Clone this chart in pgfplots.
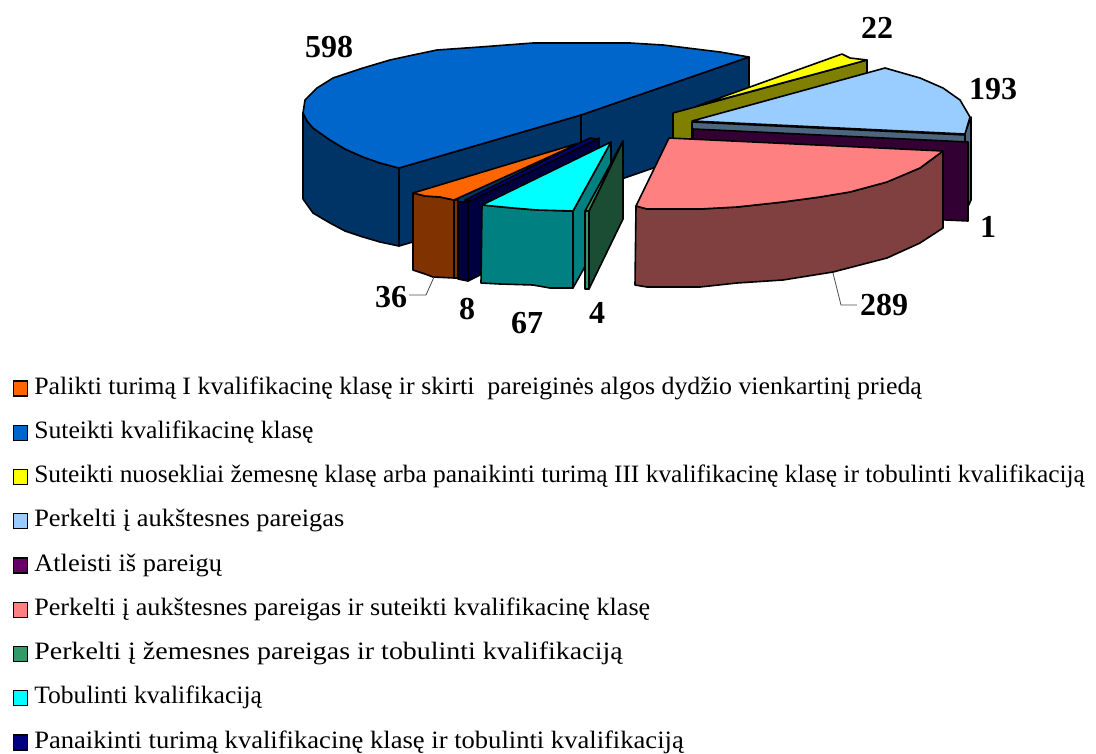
\documentclass[border=0pt]{standalone}
\usepackage{fontspec}
\setmainfont{Liberation Serif}
\usepackage{graphicx}
\usepackage{pgfplots}
\pgfplotsset{compat=1.18}
\definecolor{cOr}{HTML}{FF6600}\definecolor{cOrD}{HTML}{803300}
\definecolor{cBl}{HTML}{0066CC}\definecolor{cBlD}{HTML}{003366}
\definecolor{cYe}{HTML}{FFFF00}\definecolor{cYeD}{HTML}{808000}
\definecolor{cLb}{HTML}{99CCFF}\definecolor{cLbD}{HTML}{4D6680}
\definecolor{cPu}{HTML}{660066}\definecolor{cPuD}{HTML}{330033}
\definecolor{cPk}{HTML}{FF8080}\definecolor{cPkD}{HTML}{804040}
\definecolor{cGr}{HTML}{339966}\definecolor{cGrD}{HTML}{1A4D33}
\definecolor{cCy}{HTML}{00FFFF}\definecolor{cCyD}{HTML}{008080}
\definecolor{cNv}{HTML}{000080}\definecolor{cNvD}{HTML}{000040}
\newcommand{\face}[2]{\addplot[forget plot,fill=#1,draw=black,line width=1.6pt,line join=round,mark=none] coordinates {#2} --cycle;}
\newcommand{\lab}[3]{\node[font=\fontsize{32}{32}\selectfont\bfseries,inner sep=0pt] at (axis cs:#1,#2) {#3};}
\newcommand{\entry}[3]{\addlegendimage{fill=#1,draw=black,line width=1.3pt}\addlegendentry{\scalebox{#2}[1]{#3}}}
\begin{document}
\begin{tikzpicture}
\path[use as bounding box] (0,0) rectangle (1096pt,753pt);
\begin{axis}[
  at={(0,0)},anchor=south west,
  width=1096pt,height=753pt,scale only axis,
  xmin=0,xmax=1096,ymin=0,ymax=753,y dir=reverse,
  hide axis,clip=false,
  legend cell align=left,
  legend style={at={(axis cs:13,377)},anchor=north west,draw=none,fill=none,inner sep=0pt,outer sep=0pt,
    row sep=21.25pt,
    nodes={inner sep=0pt,text height=17pt,text depth=6pt,font=\fontsize{25}{27}\selectfont},
    /tikz/every odd column/.append style={column sep=6pt}},
  legend image code/.code={\draw[#1] (0pt,-7.5pt) rectangle (14pt,7.5pt);},
]
\entry{cOr}{1.036}{Palikti turimą I kvalifikacinę klasę ir skirti\ \ pareiginės algos dydžio vienkartinį priedą}
\entry{cBl}{1.026}{Suteikti kvalifikacinę klasę}
\entry{cYe}{1.017}{Suteikti nuosekliai žemesnę klasę arba panaikinti turimą III kvalifikacinę klasę ir tobulinti kvalifikaciją}
\entry{cLb}{1.056}{Perkelti į aukštesnes pareigas}
\entry{cPu}{1.056}{Atleisti iš pareigų}
\entry{cPk}{1.045}{Perkelti į aukštesnes pareigas ir suteikti kvalifikacinę klasę}
\entry{cGr}{1.118}{Perkelti į žemesnes pareigas ir tobulinti kvalifikaciją}
\entry{cCy}{1.023}{Tobulinti kvalifikaciją}
\entry{cNv}{1.063}{Panaikinti turimą kvalifikacinę klasę ir tobulinti kvalifikaciją}
% 598 slice
\face{cBlD}{(303,113)(307,121)(313,128)(330,140)(345,149)(363,157)(380,163)(399,168)(399,246)(380,242)(363,237)(345,231)(330,223)(313,213)(303,199)}
\face{cBlD}{(399,168)(581,115)(581,193)(399,246)}
\face{cBlD}{(581,115)(749,57)(749,135)(581,193)}
\face{cBl}{(581,115)(399,168)(380,163)(363,157)(345,149)(330,140)(313,128)(307,121)(303,113)(305,100)(317,88)(333,78)(363,68)(390,60)(413,55)(437,50)(480,47)(533,43)(630,43)(663,45)(720,52)(749,57)}
% 22 slice
\face{cYeD}{(673,113)(867,60)(867,138)(673,191)}
\face{cYe}{(697,106)(842,54)(850,58)(867,60)}
% 193 slice
\face{cLbD}{(965,133)(971,117)(971,200)(965,213)}
\face{cLbD}{(692,122)(965,135)(965,213)(692,200)}
\face{cLb}{(692,121)(885,68)(920,78)(943,88)(960,100)(970,117)(965,134)}
% 1 slice
\face{cPuD}{(693,129)(968,142)(968,221)(693,208)}
% 289 slice
\face{cPkD}{(636,206)(647,209)(700,209)(737,207)(783,202)(820,197)(850,192)(887,182)(920,168)(943,151)(943,228)(920,243)(887,258)(833,272)(783,280)(737,283)(700,287)(647,287)(635,285)}
\face{cPk}{(669,138)(943,151)(920,168)(887,182)(850,192)(820,197)(783,202)(737,207)(700,209)(647,209)(636,206)}
% 36 slice
\face{cOrD}{(413,193)(425,196)(440,197)(454,200)(454,278)(433,277)(425,274)(413,270)}
\face{cOrD}{(454,200)(458,200)(458,278)(454,278)}
\face{cOr}{(413,193)(582,142)(454,200)(440,197)(425,196)}
% 8 slice
\face{cNvD}{(458,202)(468,202)(468,281)(458,279)}
\face{cNvD}{(468,202)(599,138)(599,216)(468,281)}
\face{cNv}{(465,200)(470,201)(597,139)(590,138)}
% 67 slice
\face{cCyD}{(573,211)(611,142)(611,220)(573,288)}
\face{cCyD}{(482,205)(513,208)(537,210)(573,211)(573,288)(550,288)(533,285)(500,284)(481,283)}
\face{cCy}{(482,205)(611,142)(573,211)(537,210)(513,208)}
% 4 slice
\face{cGrD}{(589,211)(623,141)(623,219)(589,289)}
\face{cGr}{(585,211)(589,211)(589,289)(585,289)}
\face{cGr}{(585,211)(623,141)(589,211)}
% leaders
\addplot[forget plot,draw=black!70,line width=0.8pt] coordinates {(833,273)(841,305)(857,305)};
\addplot[forget plot,draw=black!70,line width=0.8pt] coordinates {(434,277)(426,295)(409,295)};
\lab{329}{47}{598}
\lab{877}{28}{22}
\lab{993}{89}{193}
\lab{988}{227}{1}
\lab{884}{305}{289}
\lab{391}{297}{36}
\lab{467}{309}{8}
\lab{527}{323}{67}
\lab{597}{313}{4}
\end{axis}
\end{tikzpicture}
\end{document}
